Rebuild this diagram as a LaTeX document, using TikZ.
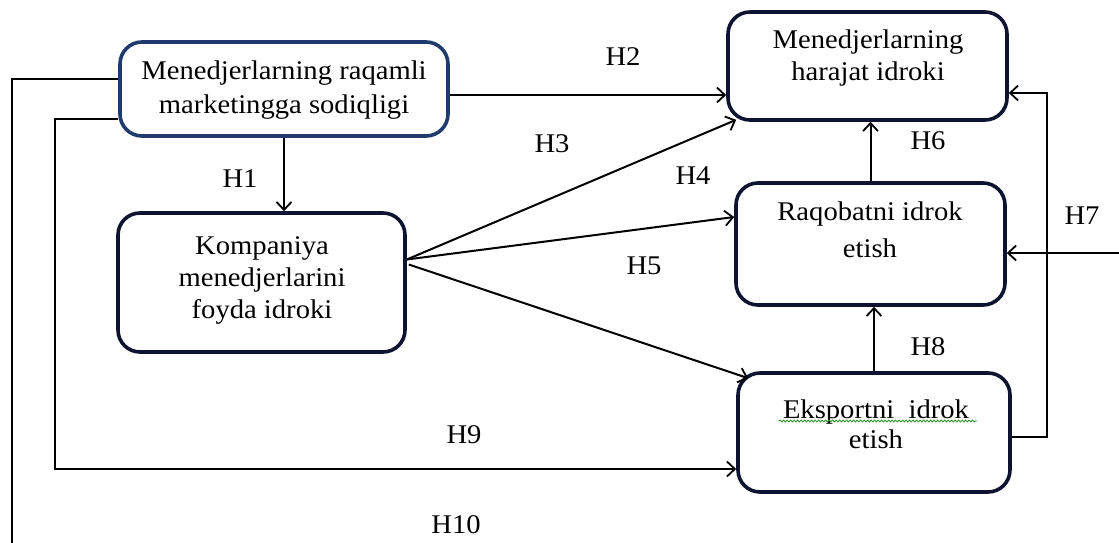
\documentclass[tikz,border=0pt]{standalone}
\usepackage{fontspec}
\setmainfont{Liberation Serif}[FakeStretch=1.06]
\usetikzlibrary{arrows.meta,decorations.pathmorphing}
\definecolor{boxblue}{RGB}{33,58,110}
\definecolor{boxnavy}{RGB}{14,20,48}
\definecolor{spellgreen}{RGB}{40,150,40}
\begin{document}
\begin{tikzpicture}[x=1pt,y=-1pt,
  box/.style={draw=boxnavy, line width=3.6pt, rounded corners=22pt, fill=white, inner sep=0pt},
  txt/.style={align=center, inner sep=0pt, font=\fontsize{27}{#1}\selectfont},
  hyp/.style={inner sep=0pt, font=\fontsize{27}{32}\selectfont},
  link/.style={line width=2pt, -{Straight Barb[length=8pt,width=15pt,line width=1.8pt]}},
  wire/.style={line width=2pt},
]
\useasboundingbox (0,0) rectangle (1119,543);

% boxes
\node[box, draw=boxblue, minimum width=328pt, minimum height=94pt] (A) at (284,89) {};
\node[box, minimum width=287pt, minimum height=139pt] (B) at (261.5,282.5) {};
\node[box, minimum width=279pt, minimum height=108pt] (C) at (867.5,66) {};
\node[box, minimum width=269pt, minimum height=122pt] (D) at (870.5,244) {};
\node[box, minimum width=272pt, minimum height=119pt] (E) at (874,432.5) {};

% box texts
\node[txt=34] (At) at (284,90) {Menedjerlarning raqamli\\marketingga sodiqligi};
\node[txt=32] (Bt) at (262,280) {Kompaniya\\menedjerlarini\\foyda idroki};
\node[txt=32] (Ct) at (868,58) {Menedjerlarning\\harajat idroki};
\node[txt=37] (Dt) at (870,230) {Raqobatni idrok\\etish};
\node[txt=30] (Et) at (876,424) {Eksportni\ \ idrok\\etish};
\draw[spellgreen, line width=0.9pt, decorate,
      decoration={snake, amplitude=0.9pt, segment length=3.5pt}] (779,421) -- (977,421);

% connectors
\draw[link] (A.south) -- (A.south |- B.north);
\draw[link] ([yshift=-6pt]A.east) -- ([yshift=-6pt]A.east -| C.west);
\coordinate (Bo) at ([yshift=23pt]B.east);
\draw[link] (Bo) -- ([xshift=10pt,yshift=2pt]C.south west);
\draw[link] (Bo) -- ([yshift=27pt]D.west);
\draw[link] ([xshift=2pt,yshift=18pt]B.east) -- ([xshift=12pt,yshift=-7pt]E.north west);
\draw[link] (D.north) -- (D.north |- C.south);
\draw[link] (E.north) -- (E.north |- D.south);

\coordinate (T7) at (1047,93);
\draw[link] ([yshift=-4.5pt]E.east) -| (T7) -- (T7 -| C.east);
\coordinate (In7) at (1119,253);
\draw[link] (In7) -- (In7 -| D.east);

\coordinate (L9) at (55,119);
\draw[link] (A.west |- L9) -- (L9) |- ([yshift=-36.5pt]E.west);
\coordinate (L10) at (12,79);
\coordinate (B10) at (12,543);
\draw[wire] (A.west |- L10) -- (L10) -- (B10);

% hypothesis labels
\node[hyp] (h1) at (240,179) {H1};
\node[hyp] (h2) at (623,57) {H2};
\node[hyp] (h3) at (552,144) {H3};
\node[hyp] (h4) at (693,176) {H4};
\node[hyp] (h5) at (644,266) {H5};
\node[hyp] (h6) at (928,141) {H6};
\node[hyp] (h7) at (1082,216) {H7};
\node[hyp] (h8) at (928,347) {H8};
\node[hyp] (h9) at (464,435) {H9};
\node[hyp] (h10) at (456,525) {H10};
\end{tikzpicture}
\end{document}
